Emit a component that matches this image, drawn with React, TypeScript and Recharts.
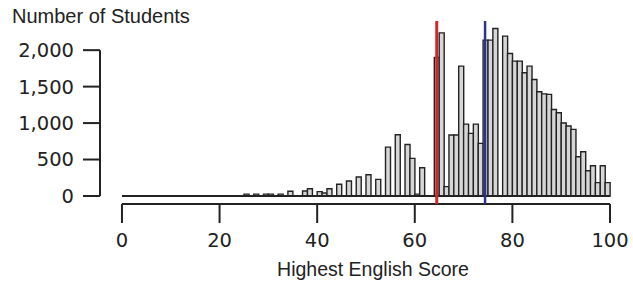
import React from "react";
import { ComposedChart, Bar, XAxis, YAxis, ReferenceLine } from "recharts";

// histogram bins: each bin covers [start, start + 1)
const binStart = [
  25, 26, 27, 28, 29, 30, 31, 32, 33, 34,
  35, 36, 37, 38, 39, 40, 41, 42, 43, 44,
  45, 46, 47, 48, 49, 50, 51, 52, 53, 54,
  55, 56, 57, 58, 59, 60, 61, 62, 63, 64,
  65, 66, 67, 68, 69, 70, 71, 72, 73, 74,
  75, 76, 77, 78, 79, 80, 81, 82, 83, 84,
  85, 86, 87, 88, 89, 90, 91, 92, 93, 94,
  95, 96, 97, 98, 99,
];
const students = [
  25, 0, 25, 0, 25, 25, 0, 25, 0, 65,
  0, 0, 68, 100, 0, 60, 40, 100, 0, 160,
  0, 205, 0, 260, 0, 292, 0, 228, 0, 670,
  0, 840, 0, 707, 516, 25, 388, 0, 0, 1900,
  2237, 128, 836, 836, 1781, 986, 859, 986, 722, 2137,
  2137, 2297, 0, 2192, 1955, 1850, 1850, 1690, 1781, 1598,
  1430, 1400, 1393, 1187, 1142, 1000, 959, 913, 539, 607,
  347, 415, 183, 415, 183,
];

const xTicks = [0, 20, 40, 60, 80, 100];
const yTicks = [0, 500, 1000, 1500, 2000];
const passingLine = 64.5;
const readinessLine = 74.4;

const data = binStart.map((s, i) => ({ mid: s + 0.5, n: students[i] }));

const INK = "#222";
const numFont = { fontFamily: "DejaVu Sans", fontSize: 19.5, fill: INK };
const textFont = "Liberation Sans";

export default function App() {
  return (
    <div style={{ position: "absolute", left: 0, top: 0, width: 633, height: 285, background: "#fff" }}>
      <div
        style={{
          position: "absolute",
          left: 12,
          top: 6,
          fontFamily: textFont,
          fontSize: 20,
          lineHeight: "20px",
          color: INK,
          whiteSpace: "nowrap",
        }}
      >
        Number of Students
      </div>
      <ComposedChart
        width={633}
        height={285}
        data={data}
        margin={{ top: 21, right: 23, bottom: 0, left: 0 }}
        barCategoryGap={0}
        barGap={0}
      >
        <XAxis
          dataKey="mid"
          type="number"
          domain={[-4.5, 100]}
          ticks={xTicks}
          height={81}
          axisLine={false}
          tickLine={{ stroke: INK, strokeWidth: 2 }}
          tickSize={19}
          tickMargin={10}
          tick={numFont}
          interval={0}
          label={{
            value: "Highest English Score",
            position: "insideBottom",
            offset: 9,
            dx: 18,
            style: { fontFamily: textFont, fontSize: 19.5, fill: INK },
          }}
        />
        <YAxis
          type="number"
          domain={[-110, 2400]}
          ticks={yTicks}
          width={100}
          axisLine={false}
          tickLine={{ stroke: INK, strokeWidth: 2 }}
          tickSize={17}
          tickMargin={9}
          tick={numFont}
          interval={0}
          tickFormatter={(v: number) => v.toLocaleString("en-US")}
        />
        <Bar dataKey="n" fill="#d6d6d6" stroke={INK} strokeWidth={1.4} isAnimationActive={false} />
        <ReferenceLine segment={[{ x: 0, y: 0 }, { x: 100, y: 0 }]} stroke={INK} strokeWidth={2} />
        <ReferenceLine segment={[{ x: -4.5, y: 0 }, { x: -4.5, y: 2000 }]} stroke={INK} strokeWidth={2} />
        <ReferenceLine segment={[{ x: 0, y: -110 }, { x: 100, y: -110 }]} stroke={INK} strokeWidth={2} />
        <ReferenceLine x={passingLine} stroke="#d1262c" strokeWidth={3} />
        <ReferenceLine x={readinessLine} stroke="#2e3192" strokeWidth={2.5} />
      </ComposedChart>
    </div>
  );
}
